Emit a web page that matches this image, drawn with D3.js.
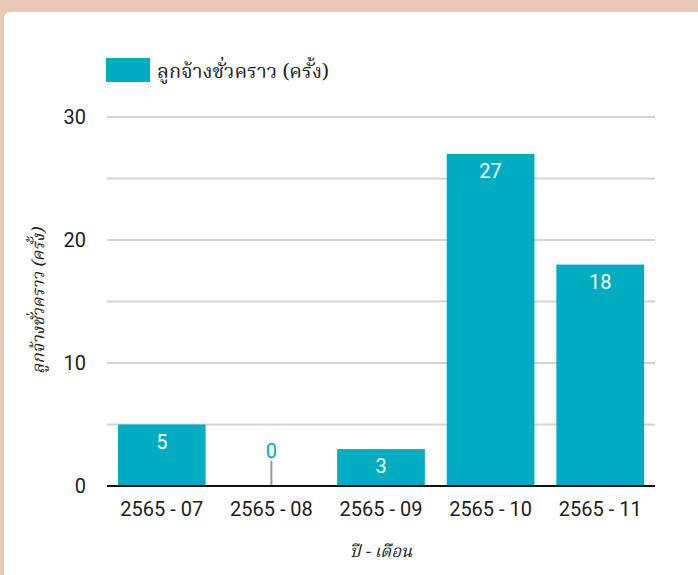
<!DOCTYPE html>
<html><head><meta charset="utf-8">
<script src="https://cdn.jsdelivr.net/npm/d3@7"></script>
<style>
html,body{margin:0;padding:0;background:#e8c9b5;}
svg{display:block;}
</style></head>
<body>
<script>
const categories = ["2565 - 07","2565 - 08","2565 - 09","2565 - 10","2565 - 11"];
const values = [5, 0, 3, 27, 18];
const yTicks = [0, 10, 20, 30];
const gridTicks = [0, 5, 10, 15, 20, 25, 30];
const seriesName = "ลูกจ้างชั่วคราว (ครั้ง)";
const xTitle = "ปี - เดือน";
const yTitle = "ลูกจ้างชั่วคราว (ครั้ง)";

(function(){
const W = 698, H = 575;
const svg = d3.select("body").append("svg").attr("width", W).attr("height", H);
svg.append("rect").attr("width", W).attr("height", H).attr("fill", "#e8c9b5");
svg.append("rect").attr("x", 4).attr("y", 12).attr("width", W + 20).attr("height", H + 20)
  .attr("rx", 6).attr("fill", "#ffffff");

const pL = 107, pR = 655, pT = 117, pB = 486;
const x = d3.scaleBand().domain(categories).range([pL, pR]).paddingInner(0.2).paddingOuter(0.1);
const y = d3.scaleLinear().domain([0, 30]).range([pB, pT]);
const teal = "#00acc1";
const font = "Roboto, 'Noto Sans', sans-serif";
const thaiFont = "'Noto Serif Thai', 'Noto Sans', serif";

svg.append("g").selectAll("line").data(gridTicks.filter(d => d !== 0)).join("line")
  .attr("x1", pL).attr("x2", pR)
  .attr("y1", d => y(d)).attr("y2", d => y(d))
  .attr("stroke", "#d3d3d3").attr("stroke-width", 2);

svg.append("g").selectAll("text").data(yTicks).join("text")
  .attr("x", 86).attr("y", d => y(d)).attr("dy", "0.35em")
  .attr("text-anchor", "end").attr("font-family", font).attr("font-size", 20)
  .attr("fill", "#212121").text(d => d);

svg.append("g").selectAll("rect").data(values).join("rect")
  .attr("x", (d, i) => x(categories[i])).attr("width", x.bandwidth())
  .attr("y", d => y(d)).attr("height", d => pB - y(d))
  .attr("fill", teal);

svg.append("g").selectAll("line").data(values.map((v, i) => ({v, i})).filter(d => d.v === 0)).join("line")
  .attr("x1", d => x(categories[d.i]) + x.bandwidth() / 2)
  .attr("x2", d => x(categories[d.i]) + x.bandwidth() / 2)
  .attr("y1", pB - 25).attr("y2", pB)
  .attr("stroke", "#999").attr("stroke-width", 2);

svg.append("g").selectAll("text").data(values).join("text")
  .attr("x", (d, i) => x(categories[i]) + x.bandwidth() / 2)
  .attr("y", d => d === 0 ? pB - 28 : y(d) + 24)
  .attr("text-anchor", "middle").attr("font-family", font).attr("font-size", 20)
  .attr("fill", d => d === 0 ? teal : "#ffffff").text(d => d);

svg.append("line").attr("x1", pL).attr("x2", pR).attr("y1", pB).attr("y2", pB)
  .attr("stroke", "#111").attr("stroke-width", 2);

svg.append("g").selectAll("text").data(categories).join("text")
  .attr("x", d => x(d) + x.bandwidth() / 2).attr("y", 516)
  .attr("text-anchor", "middle").attr("font-family", font).attr("font-size", 20)
  .attr("fill", "#212121").text(d => d);

svg.append("text").attr("x", 381).attr("y", 557).attr("text-anchor", "middle")
  .attr("font-family", thaiFont).attr("font-style", "italic")
  .attr("font-size", 17).attr("fill", "#222").text(xTitle);
svg.append("text").attr("transform", "translate(44,301) rotate(-90)").attr("text-anchor", "middle")
  .attr("font-family", thaiFont).attr("font-style", "italic")
  .attr("font-size", 17).attr("fill", "#222").text(yTitle);

svg.append("rect").attr("x", 106).attr("y", 58).attr("width", 44).attr("height", 24).attr("fill", teal);
svg.append("text").attr("x", 157).attr("y", 71).attr("dy", "0.35em")
  .attr("font-family", thaiFont).attr("font-size", 20)
  .attr("fill", "#222").text(seriesName);
})();
</script>
</body></html>
